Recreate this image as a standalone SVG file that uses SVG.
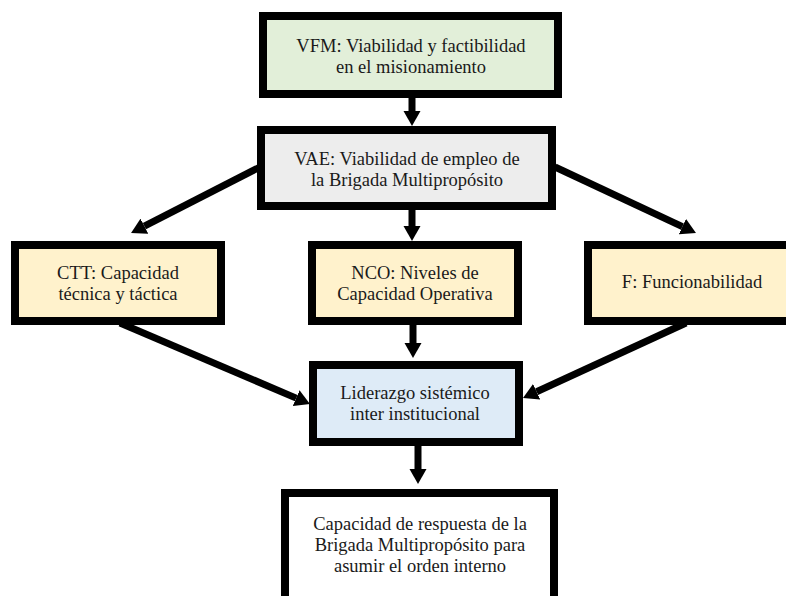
<svg xmlns="http://www.w3.org/2000/svg" width="786" height="596" viewBox="0 0 786 596">
<style>
.box{stroke:#000;stroke-width:8}
.t{font-family:Liberation Serif, serif;font-size:18.5px;fill:#1a1a1a;text-anchor:middle}
.c{stroke:#000;stroke-width:7;fill:none}
</style>
<defs>
<marker id="ah" markerUnits="userSpaceOnUse" markerWidth="16" markerHeight="18" viewBox="0 -9 16 18" refX="0" refY="0" orient="auto">
<path d="M0,-8.5 L15,0 L0,8.5 z" fill="#000"/>
</marker>
</defs>
<rect width="786" height="596" fill="#fff"/>
<g id="connectors">
<line class="c" x1="412" y1="96" x2="412" y2="111" marker-end="url(#ah)"/>
<line class="c" x1="412" y1="208" x2="412" y2="226" marker-end="url(#ah)"/>
<line class="c" x1="413" y1="323" x2="413" y2="343" marker-end="url(#ah)"/>
<line class="c" x1="418" y1="444" x2="418" y2="469" marker-end="url(#ah)"/>
<line class="c" x1="260" y1="167" x2="144.4" y2="226.2" marker-end="url(#ah)"/>
<line class="c" x1="555" y1="167" x2="682.4" y2="226.6" marker-end="url(#ah)"/>
<line class="c" x1="120" y1="323" x2="296.2" y2="398.1" marker-end="url(#ah)"/>
<line class="c" x1="686" y1="323" x2="536.6" y2="391.7" marker-end="url(#ah)"/>
</g>
<g id="vfm">
<rect class="box" x="263" y="16" width="295" height="78" fill="#e2efd9"/>
<text class="t" x="411" y="52">VFM: Viabilidad y factibilidad</text>
<text class="t" x="411" y="73">en el misionamiento</text>
</g>
<g id="vae">
<rect class="box" x="261" y="130" width="291" height="76" fill="#ededed"/>
<text class="t" x="407" y="165">VAE: Viabilidad de empleo de</text>
<text class="t" x="407" y="186">la Brigada Multipropósito</text>
</g>
<g id="ctt">
<rect class="box" x="15" y="245" width="206" height="76" fill="#fff2cc"/>
<text class="t" x="118" y="279">CTT: Capacidad</text>
<text class="t" x="118" y="300">técnica y táctica</text>
</g>
<g id="nco">
<rect class="box" x="312" y="245" width="206" height="76" fill="#fff2cc"/>
<text class="t" x="415" y="279">NCO: Niveles de</text>
<text class="t" x="415" y="300">Capacidad Operativa</text>
</g>
<g id="f">
<rect class="box" x="588" y="245" width="210" height="76" fill="#fff2cc"/>
<text class="t" x="692" y="288">F: Funcionabilidad</text>
</g>
<g id="liderazgo">
<rect class="box" x="313" y="365" width="206" height="77" fill="#deebf7"/>
<text class="t" x="415" y="399">Liderazgo sistémico</text>
<text class="t" x="415" y="420">inter institucional</text>
</g>
<g id="capacidad">
<rect class="box" x="285" y="493" width="269" height="120" fill="#fff"/>
<text class="t" x="420" y="530">Capacidad de respuesta de la</text>
<text class="t" x="420" y="551">Brigada Multipropósito para</text>
<text class="t" x="420" y="572">asumir el orden interno</text>
</g>
</svg>
